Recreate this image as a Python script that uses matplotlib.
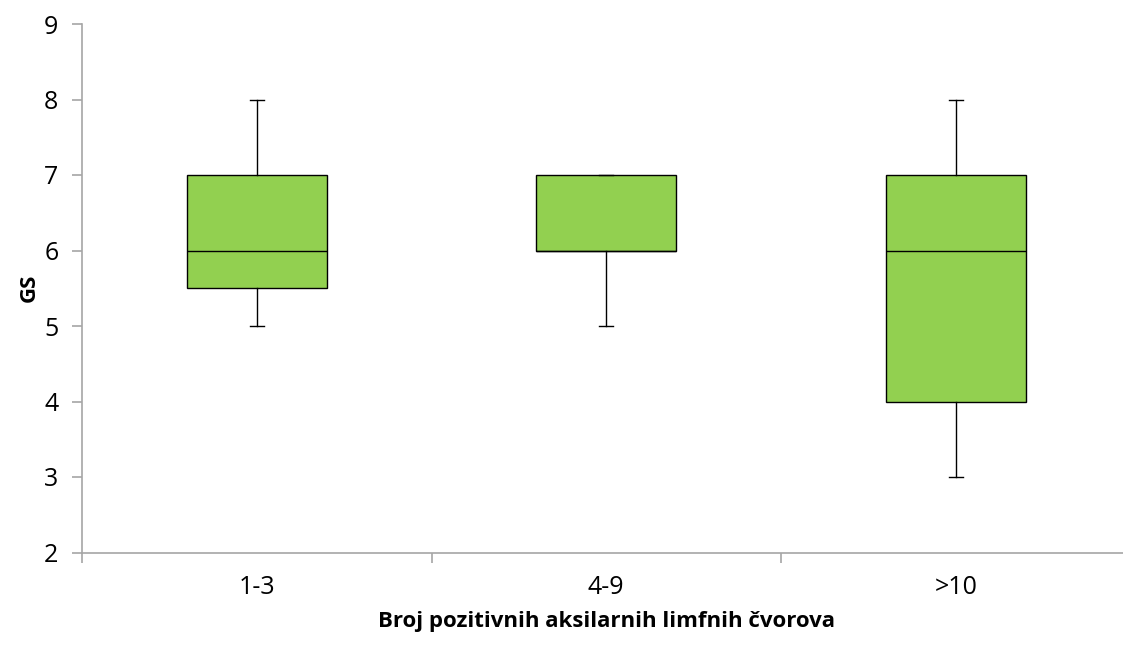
import matplotlib.pyplot as plt

plt.rcParams['font.family'] = ['Open Sans', 'DejaVu Sans']

categories = ['1-3', '4-9', '>10']
whisker_low = [5, 5, 3]
q1 = [5.5, 6, 4]
median = [6, 6, 6]
q3 = [7, 7, 7]
whisker_high = [8, 7, 8]

stats = []
for i, cat in enumerate(categories):
    stats.append({
        'label': cat,
        'whislo': whisker_low[i],
        'q1': q1[i],
        'med': median[i],
        'q3': q3[i],
        'whishi': whisker_high[i],
        'fliers': [],
    })

fig = plt.figure(figsize=(11.23, 6.48), dpi=100)
ax = fig.add_axes([82 / 1123, 95.5 / 648, 1048.5 / 1123, 528.5 / 648])

axis_gray = '#A6A6A6'
ax.bxp(stats, positions=range(len(categories)), widths=0.4, capwidths=0.04,
       patch_artist=True, showfliers=False,
       boxprops=dict(facecolor='#92D050', edgecolor='black', linewidth=1),
       medianprops=dict(color='black', linewidth=1),
       whiskerprops=dict(color='black', linewidth=1),
       capprops=dict(color='black', linewidth=1))

ax.set_xlim(-0.5, len(categories) - 0.5)
ax.set_ylim(2, 9)
ax.set_yticks(range(2, 10))

# category labels centred, tick marks at category boundaries
ax.set_xticks(range(len(categories)))
ax.set_xticklabels(categories)
ax.tick_params(axis='x', length=0, pad=16, labelsize=18)
ax.set_xticks([i - 0.5 for i in range(len(categories) + 1)], minor=True)
ax.tick_params(axis='x', which='minor', length=7, color=axis_gray, width=1.2)
ax.tick_params(axis='y', length=7, color=axis_gray, width=1.2, pad=10, labelsize=18)

for side in ['top', 'right']:
    ax.spines[side].set_visible(False)
for side in ['left', 'bottom']:
    ax.spines[side].set_color(axis_gray)
    ax.spines[side].set_linewidth(1.2)

ax.set_xlabel('Broj pozitivnih aksilarnih limfnih čvorova', fontsize=16,
              fontweight='bold', labelpad=8)
ax.set_ylabel('GS', fontsize=16, fontweight='bold', labelpad=3)

fig.savefig('out.png', dpi=100)
